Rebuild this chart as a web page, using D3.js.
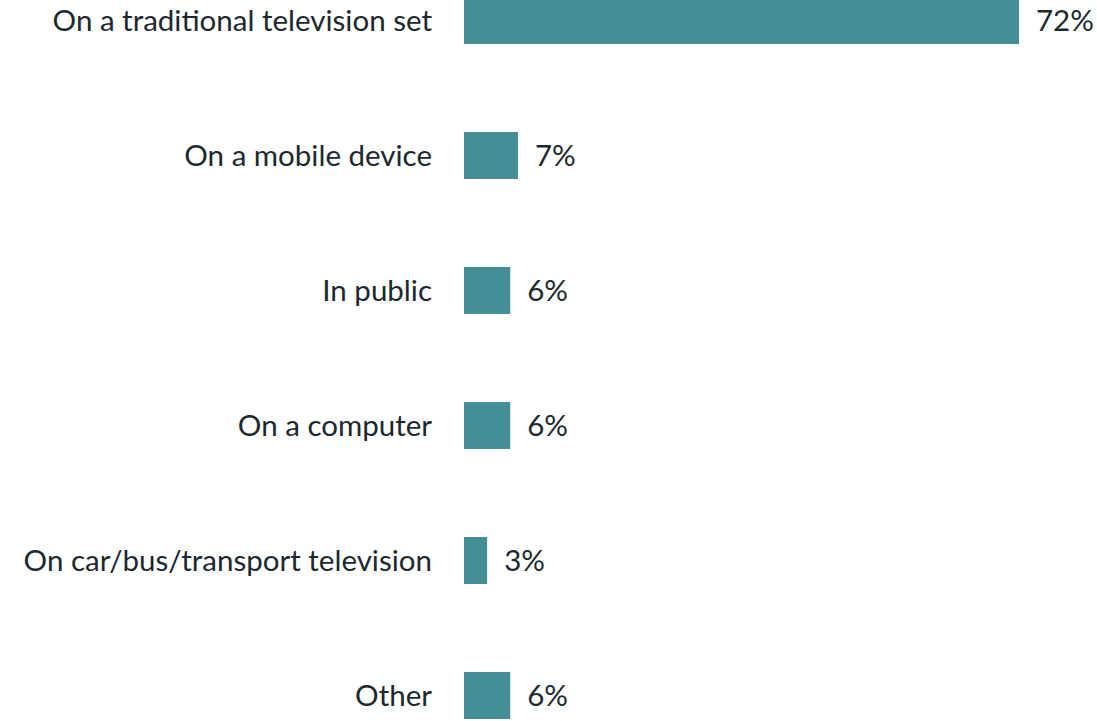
<!DOCTYPE html>
<html>
<head>
<meta charset="utf-8">
<script src="https://cdn.jsdelivr.net/npm/d3@7"></script>
<style>
  html, body { margin: 0; padding: 0; background: #ffffff; overflow: hidden; }
  svg { display: block; }
</style>
</head>
<body>
<svg id="chart" width="1097" height="721"></svg>
<script>
// Where people watch: share of respondents by viewing location
const categories = [
  "On a traditional television set",
  "On a mobile device",
  "In public",
  "On a computer",
  "On car/bus/transport television",
  "Other"
];
const shares = [72, 7, 6, 6, 3, 6];
const valueLabels = ["72%", "7%", "6%", "6%", "3%", "6%"];

const data = categories.map((c, i) => ({ category: c, value: shares[i], label: valueLabels[i] }));

const svg = d3.select("#chart");
const barColor = "#468e96";
const textColor = "#1b292f";
const fontFamily = "Lato, 'Open Sans', sans-serif";
const fontSize = 29.5;

const x = d3.scaleLinear().domain([0, 72]).range([464, 1019]);
const y = d3.scaleBand()
  .domain(categories)
  .range([-47, 763])
  .paddingInner(0.652)
  .paddingOuter(0.326);

svg.selectAll("rect.bar")
  .data(data)
  .join("rect")
  .attr("class", "bar")
  .attr("x", x(0))
  .attr("y", d => y(d.category))
  .attr("width", d => x(d.value) - x(0))
  .attr("height", y.bandwidth())
  .attr("fill", barColor);

// Category labels, right-aligned against the bars
svg.selectAll("text.cat")
  .data(data)
  .join("text")
  .attr("class", "cat")
  .attr("x", x(0) - 32)
  .attr("y", d => y(d.category) + y.bandwidth() / 2)
  .attr("dy", "0.35em")
  .attr("text-anchor", "end")
  .attr("font-family", fontFamily)
  .attr("font-size", fontSize)
  .attr("fill", textColor)
  .text(d => d.category);

// Value labels at the end of each bar
svg.selectAll("text.val")
  .data(data)
  .join("text")
  .attr("class", "val")
  .attr("x", d => x(d.value) + 17)
  .attr("y", d => y(d.category) + y.bandwidth() / 2)
  .attr("dy", "0.35em")
  .attr("text-anchor", "start")
  .attr("font-family", fontFamily)
  .attr("font-size", fontSize)
  .attr("fill", textColor)
  .text(d => d.label);
</script>
</body>
</html>
